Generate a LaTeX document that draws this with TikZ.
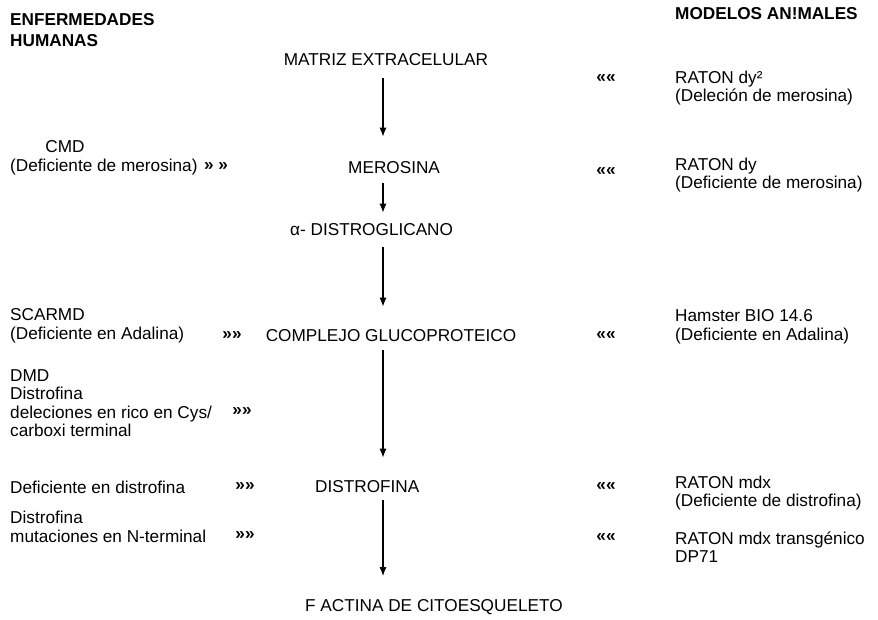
\documentclass[tikz,border=0pt]{standalone}
\usepackage{fontspec}
\setmainfont{Liberation Sans}
\usetikzlibrary{arrows.meta}
\tikzstyle{line} = [draw, line width=1.2pt, -{Latex[length=9pt,width=7pt]}]
\tikzstyle{txt} = [inner sep=0pt, font=\fontsize{17.2}{18.5}\selectfont]
\tikzstyle{lft} = [txt, anchor=west, align=left]
\tikzstyle{head} = [lft, font=\fontsize{17.2}{21}\selectfont\bfseries]
\tikzstyle{sig} = [txt, font=\fontsize{17.2}{18.5}\selectfont\bfseries]

\begin{document}
\begin{tikzpicture}[x=1pt, y=-1pt]
		\useasboundingbox (0,0) rectangle (878,620);
		% encabezados
		\node [head] (enf) at (10,30) {ENFERMEDADES\\HUMANAS};
		\node [head] (mod) at (675,14) {MODELOS AN!MALES};
		% eje central
		\coordinate (eje) at (383,0);
		\node [txt] (mat) at (386,60) {MATRIZ EXTRACELULAR};
		\node [lft] (mer) at (348,168) {MEROSINA};
		\node [lft] (alf) at (290,230) {α- DISTROGLICANO};
		\node [txt] (com) at (391,336) {COMPLEJO GLUCOPROTEICO};
		\node [lft] (dis) at (315,487) {DISTROFINA};
		\node [lft] (act) at (305,607) {F ACTINA DE CITOESQUELETO};
		\path [line, shorten <=12pt, shorten >=25pt] (mat.south -| eje) -- (mer.north -| eje);
		\path [line, shorten <=9pt, shorten >=11pt] (mer.south -| eje) -- (alf.north -| eje);
		\path [line, shorten <=11pt, shorten >=23pt] (alf.south -| eje) -- (com.north -| eje);
		\path [line, shorten <=8pt, shorten >=23pt] (com.south -| eje) -- (dis.north -| eje);
		\path [line, shorten <=7pt, shorten >=23pt] (dis.south -| eje) -- (act.north -| eje);
		% enfermedades humanas
		\node [txt] (cmd) at (65,147) {CMD};
		\node [lft] (cmdb) at (10,167) {(Deficiente de merosina)};
		\node [sig] (cmds) at (216,167) {» »};
		\node [lft] (sca) at (10,326) {SCARMD\\(Deficiente en Adalina)};
		\node [sig] (scas) at (232,336) {»»};
		\node [lft] (dmd) at (10,403) {DMD\\Distrofina\\deleciones en rico en Cys/\\carboxi terminal};
		\node [sig] (dmds) at (242,412) {»»};
		\node [lft] (def) at (10,487) {Deficiente en distrofina};
		\node [sig] (defs) at (245,487) {»»};
		\node [lft] (mut) at (10,527) {Distrofina\\mutaciones en N-terminal};
		\node [sig] (muts) at (245,536) {»»};
		% modelos animales
		\node [sig] (r1s) at (606,79) {««};
		\node [lft] (r1) at (675,88) {RATON dy²\\(Deleción de merosina)};
		\node [sig] (r2s) at (606,172) {««};
		\node [lft] (r2) at (675,175) {RATON dy\\(Deficiente de merosina)};
		\node [sig] (r3s) at (606,336) {««};
		\node [lft] (r3) at (675,327) {Hamster BIO 14.6\\(Deficiente en Adalina)};
		\node [sig] (r4s) at (606,487) {««};
		\node [lft] (r4) at (675,493) {RATON mdx\\(Deficiente de distrofina)};
		\node [sig] (r5s) at (606,538) {««};
		\node [lft] (r5) at (675,547) {RATON mdx transgénico\\DP71};
\end{tikzpicture}
\end{document}
